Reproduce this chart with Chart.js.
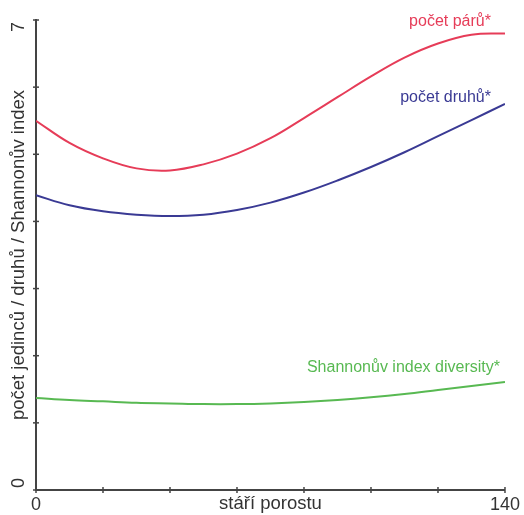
<!DOCTYPE html>
<html>
<head>
<meta charset="utf-8">
<script src="https://cdn.jsdelivr.net/npm/chart.js@4"></script>
<style>
html, body { margin: 0; padding: 0; background: #fff; }
#wrap { width: 524px; height: 515px; }
</style>
</head>
<body>
<div id="wrap"><canvas id="graf"></canvas></div>
<script>
// stáří porostu (x)
const stari = [0, 10, 20, 30, 40, 50, 60, 70, 80, 90, 100, 110, 120, 130, 140]

const pocetParu = [5.50, 5.17, 4.94, 4.79, 4.76, 4.85, 5.01, 5.24, 5.54, 5.85, 6.16, 6.44, 6.65, 6.78, 6.80]
const pocetDruhu = [4.39, 4.24, 4.15, 4.10, 4.08, 4.10, 4.17, 4.28, 4.43, 4.61, 4.81, 5.03, 5.27, 5.51, 5.75]
const shannon = [1.37, 1.34, 1.32, 1.30, 1.29, 1.28, 1.28, 1.29, 1.31, 1.34, 1.38, 1.43, 1.49, 1.55, 1.61]

const popisky = ["počet párů*", "počet druhů*", "Shannonův index diversity*"]
const barvy = ["#e63c58", "#3a3a94", "#58b952"]

const yTitulek = "počet jedinců / druhů / Shannonův index"
const xTitulek = "stáří porostu"

const pismo = '"Liberation Sans", Arial, sans-serif'

function body(hodnoty){
  return stari.map((s, i) => ({x: s, y: hodnoty[i]}))
}

/* popisky, osy a krizove carky */
const kresba = {
  id: "kresba",
  afterDraw(chart){
    const ctx = chart.ctx
    const x = chart.scales.x
    const y = chart.scales.y
    ctx.save()

    ctx.strokeStyle = "#444"
    ctx.lineWidth = 1.5
    y.ticks.forEach(t => {
      const py = y.getPixelForValue(t.value)
      ctx.beginPath(); ctx.moveTo(x.left - 3, py); ctx.lineTo(x.left + 3, py); ctx.stroke()
    })
    x.ticks.forEach(t => {
      const px = x.getPixelForValue(t.value)
      ctx.beginPath(); ctx.moveTo(px, y.bottom - 3); ctx.lineTo(px, y.bottom + 3); ctx.stroke()
    })

    ctx.fillStyle = "#333"
    ctx.font = "18px " + pismo
    ctx.textBaseline = "middle"

    // y popisky 0 a 7, otocene
    ctx.save()
    ctx.translate(19, y.getPixelForValue(7) + 2)
    ctx.rotate(-Math.PI / 2)
    ctx.textAlign = "right"
    ctx.fillText("7", 0, 0)
    ctx.restore()

    ctx.save()
    ctx.translate(19, y.getPixelForValue(0) - 2)
    ctx.rotate(-Math.PI / 2)
    ctx.textAlign = "left"
    ctx.fillText("0", 0, 0)
    ctx.restore()

    ctx.font = "18.5px " + pismo
    ctx.save()
    ctx.translate(19, (y.top + y.bottom) / 2)
    ctx.rotate(-Math.PI / 2)
    ctx.textAlign = "center"
    ctx.fillText(yTitulek, 0, 0)
    ctx.restore()

    ctx.textAlign = "center"
    ctx.fillText(xTitulek, (x.left + x.right) / 2, 504)

    // popisky krivek
    const pozice = [[135.8, 6.98], [135.8, 5.85], [138.5, 1.82]]
    ctx.font = "16px " + pismo
    ctx.textAlign = "right"
    popisky.forEach((p, i) => {
      ctx.fillStyle = barvy[i]
      ctx.fillText(p, x.getPixelForValue(pozice[i][0]), y.getPixelForValue(pozice[i][1]))
    })

    ctx.restore()
  }
}

new Chart(document.getElementById("graf"), {
  type: "line",
  data: {
    datasets: [
      {label: popisky[0], data: body(pocetParu), borderColor: barvy[0]},
      {label: popisky[1], data: body(pocetDruhu), borderColor: barvy[1]},
      {label: popisky[2], data: body(shannon), borderColor: barvy[2]}
    ]
  },
  options: {
    responsive: true,
    maintainAspectRatio: false,
    animation: false,
    layout: {padding: {top: 20, right: 17, left: 0, bottom: 0}},
    elements: {
      point: {radius: 0},
      line: {borderWidth: 2, tension: 0.4, fill: false}
    },
    plugins: {legend: {display: false}, tooltip: {enabled: false}},
    scales: {
      x: {
        type: "linear",
        min: 0, max: 140,
        afterFit(s){ s.height = 25 },
        grid: {display: false, drawTicks: false, tickLength: 0},
        border: {color: "#444", width: 2},
        ticks: {
          stepSize: 20,
          padding: 4,
          color: "#333",
          font: {size: 18, family: pismo},
          maxRotation: 0,
          callback: v => (v === 0 || v === 140) ? String(v) : ""
        }
      },
      y: {
        min: 0, max: 7,
        afterFit(s){ s.width = 36 },
        grid: {display: false},
        border: {color: "#444", width: 2},
        ticks: {stepSize: 1, display: false}
      }
    }
  },
  plugins: [kresba]
})
</script>
</body>
</html>
